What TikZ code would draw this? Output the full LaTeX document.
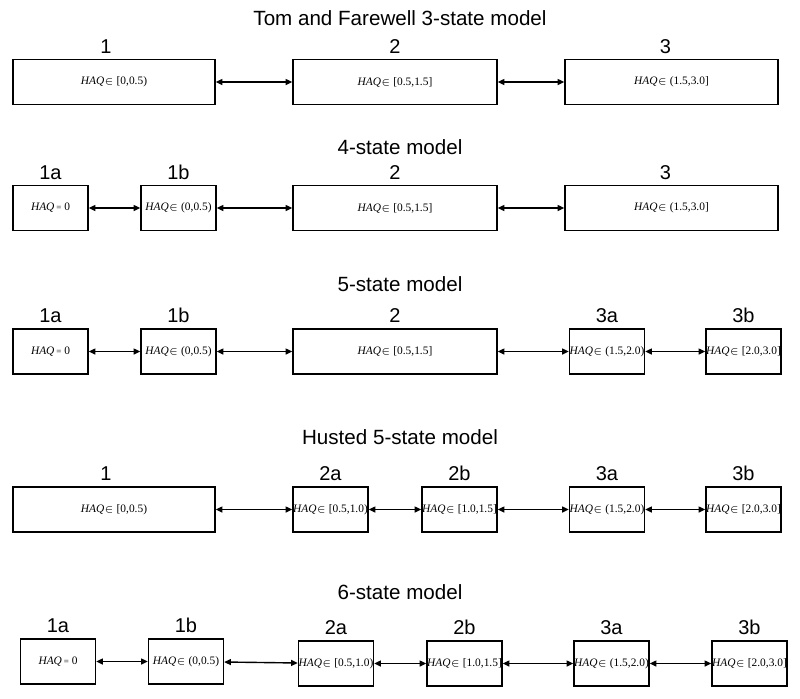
\documentclass[tikz,border=0pt]{standalone}
\usepackage{fontspec}
\setmainfont{Liberation Serif}
\setsansfont{Liberation Sans}
\usetikzlibrary{arrows.meta, positioning}
\newcommand{\haqin}[1]{\textit{HAQ}{\fontsize{4.5}{4.5}\selectfont$\in$}\ #1}
\newcommand{\haqzero}{\textit{HAQ}\,{\fontsize{4.5}{4.5}\selectfont=}\ 0}

\begin{document}
\begin{tikzpicture}[x=0.5pt, y=-0.5pt,
        title/.style={font=\sffamily\fontsize{10.3}{12}\selectfont},
        lab/.style={font=\sffamily\fontsize{10}{12}\selectfont, inner sep=0pt},
        state/.style={draw, line width=0.65pt, minimum height=22.5pt,
                      inner sep=0pt, font=\fontsize{5.7}{6.5}\selectfont},
        wide/.style={state, minimum width=102pt},
        small/.style={state, minimum width=37.5pt},
        link/.style={{Triangle[length=3.4pt,width=3pt]}-{Triangle[length=3.4pt,width=3pt]},
                     line width=0.7pt}
      ]
        \useasboundingbox (0,0) rectangle (800,698);

        % Tom and Farewell
        \node[title] (ttf) at (400,18) {Tom and Farewell 3-state model};
        \node[wide, minimum width=101pt] (tf1) at (114,82)   {\haqin{[0,0.5)}};
        \node[wide] (tf2) at (395,82)   {\haqin{[0.5,1.5]}};
        \node[wide, minimum width=106.5pt] (tf3) at (671.5,82) {\haqin{(1.5,3.0]}};
        \node[lab, above=2.5pt of tf1, xshift=-4pt] {1};
        \node[lab, above=2.5pt of tf2] {2};
        \node[lab, above=2.5pt of tf3, xshift=-3pt] {3};
        \draw[link] (tf1) -- (tf2);
        \draw[link] (tf2) -- (tf3);

        % 4-state
        \node[title] (tfour) at (400,147) {4-state model};
        \node[small] (four1a) at (50.5,208)  {\haqzero};
        \node[small] (four1b) at (178.5,208) {\haqin{(0,0.5)}};
        \node[wide] (four2) at (395,208)     {\haqin{[0.5,1.5]}};
        \node[wide, minimum width=106.5pt] (four3) at (671.5,208) {\haqin{(1.5,3.0]}};
        \node[lab, above=2.5pt of four1a] {1a};
        \node[lab, above=2.5pt of four1b] {1b};
        \node[lab, above=2.5pt of four2] {2};
        \node[lab, above=2.5pt of four3, xshift=-3pt] {3};
        \draw[link] (four1a) -- (four1b);
        \draw[link] (four1b) -- (four2);
        \draw[link] (four2) -- (four3);

        % 5-state
        \node[title] (tfive) at (400,284) {5-state model};
        \node[small] (five1a) at (50.5,351.5)  {\haqzero};
        \node[small] (five1b) at (178.5,351.5) {\haqin{(0,0.5)}};
        \node[wide] (five2) at (395,351.5)     {\haqin{[0.5,1.5]}};
        \node[small] (five3a) at (607,351.5)   {\haqin{(1.5,2.0)}};
        \node[small] (five3b) at (743.5,351.5) {\haqin{[2.0,3.0]}};
        \node[lab, above=2.5pt of five1a] {1a};
        \node[lab, above=2.5pt of five1b] {1b};
        \node[lab, above=2.5pt of five2] {2};
        \node[lab, above=2.5pt of five3a] {3a};
        \node[lab, above=2.5pt of five3b] {3b};
        \draw[link] (five1a) -- (five1b);
        \draw[link] (five1b) -- (five2);
        \draw[link] (five2) -- (five3a);
        \draw[link] (five3a) -- (five3b);

        % Husted
        \node[title] (thus) at (400,437) {Husted 5-state model};
        \node[wide, minimum width=101pt] (hus1) at (114,509.5) {\haqin{[0,0.5)}};
        \node[small] (hus2a) at (330.5,509.5) {\haqin{[0.5,1.0)}};
        \node[small] (hus2b) at (459.5,509.5) {\haqin{[1.0,1.5]}};
        \node[small] (hus3a) at (607,509.5)   {\haqin{(1.5,2.0)}};
        \node[small] (hus3b) at (743.5,509.5) {\haqin{[2.0,3.0]}};
        \node[lab, above=2.5pt of hus1, xshift=-4pt] {1};
        \node[lab, above=2.5pt of hus2a] {2a};
        \node[lab, above=2.5pt of hus2b] {2b};
        \node[lab, above=2.5pt of hus3a] {3a};
        \node[lab, above=2.5pt of hus3b] {3b};
        \draw[link] (hus1) -- (hus2a);
        \draw[link] (hus2a) -- (hus2b);
        \draw[link] (hus2b) -- (hus3a);
        \draw[link] (hus3a) -- (hus3b);

        % 6-state
        \node[title] (tsix) at (400,592) {6-state model};
        \node[small] (six1a) at (58,661.5)  {\haqzero};
        \node[small] (six1b) at (186,661.5) {\haqin{(0,0.5)}};
        \node[small] (six2a) at (336,663.5)   {\haqin{[0.5,1.0)}};
        \node[small] (six2b) at (464.5,663.5) {\haqin{[1.0,1.5]}};
        \node[small] (six3a) at (611.5,663.5) {\haqin{(1.5,2.0)}};
        \node[small] (six3b) at (749.5,663.5) {\haqin{[2.0,3.0]}};
        \node[lab, above=2.5pt of six1a] {1a};
        \node[lab, above=2.5pt of six1b] {1b};
        \node[lab, above=2.5pt of six2a] {2a};
        \node[lab, above=2.5pt of six2b] {2b};
        \node[lab, above=2.5pt of six3a] {3a};
        \node[lab, above=2.5pt of six3b] {3b};
        \draw[link] (six1a) -- (six1b);
        \draw[link] (six1b) -- (six2a);
        \draw[link] (six2a) -- (six2b);
        \draw[link] (six2b) -- (six3a);
        \draw[link] (six3a) -- (six3b);
      \end{tikzpicture}
\end{document}
